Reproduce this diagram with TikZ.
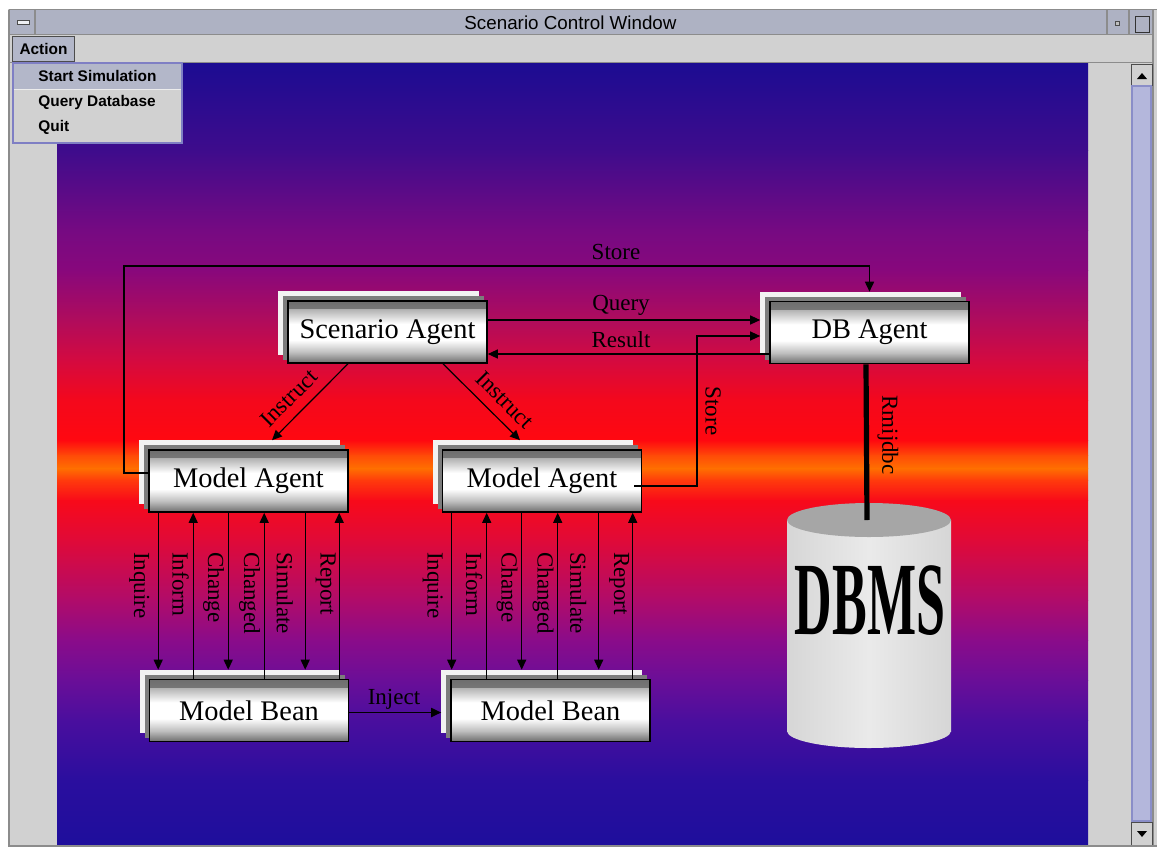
\documentclass[tikz,border=0pt]{standalone}
\usepackage{fontspec}
\setmainfont{Liberation Serif}
\newfontfamily\uifont{Liberation Sans}
\usetikzlibrary{arrows.meta,calc}

% window chrome colours
\definecolor{wingray}{HTML}{D1D1D1}
\definecolor{titlebar}{HTML}{AEB2C3}
\definecolor{menusel}{HTML}{B3B7C9}
\definecolor{menuedge}{HTML}{7F7FC4}
\definecolor{thumb}{HTML}{B4B7DC}
\definecolor{thumbedge}{HTML}{8A8EC8}
\definecolor{frameline}{HTML}{8C8C8C}
% box stack colours
\definecolor{backwhite}{HTML}{F2F2F2}
\definecolor{backgray}{HTML}{7C7C7C}
\definecolor{bxdark}{HTML}{6E6E6E}
\definecolor{bxmid}{HTML}{B4B4B4}
% cylinder colours
\definecolor{cylside}{HTML}{D6D6D6}
\definecolor{cylmid}{HTML}{EAEAEA}
\definecolor{cyltopc}{HTML}{A6A6A6}
% canvas gradient stops, bottom to top
\definecolor{g00}{HTML}{1E0E9C}
\definecolor{g01}{HTML}{2A0E9E}
\definecolor{g02}{HTML}{4A0E9E}
\definecolor{g03}{HTML}{6A0E98}
\definecolor{g04}{HTML}{8A0C8A}
\definecolor{g05}{HTML}{B00C6A}
\definecolor{g06}{HTML}{E00A38}
\definecolor{g07}{HTML}{F80A1A}
\definecolor{g08}{HTML}{FF3A0C}
\definecolor{g09}{HTML}{FF7000}
\definecolor{g10}{HTML}{FF4A08}
\definecolor{g11}{HTML}{FF0810}
\definecolor{g12}{HTML}{F4081C}
\definecolor{g13}{HTML}{D40A40}
\definecolor{g14}{HTML}{B00C5C}
\definecolor{g15}{HTML}{88087C}
\definecolor{g16}{HTML}{760A82}
\definecolor{g17}{HTML}{3E0C8C}
\definecolor{g18}{HTML}{1C0C92}

\pgfdeclarelayer{base}
\pgfdeclarelayer{canvas}
\pgfdeclarelayer{stack}
\pgfsetlayers{base,canvas,stack,main}

% one horizontal band of a box face, between fractions #1 and #2 of its height
\newcommand\faceband[4]{%
  \shade[top color=#3, bottom color=#4]
    ($(path picture bounding box.north west)!#1!(path picture bounding box.south west)$)
    rectangle
    ($(path picture bounding box.north east)!#2!(path picture bounding box.south east)$);}

\newcommand\beanlinks[2]{%
  \coordinate (#2top) at ([yshift=4.5pt]#2.north);
  \foreach \dx in {10,80,157}{
    \coordinate (t) at ($(#1.south west)+(\dx,0)$);
    \draw[link] (t) -- (t |- #2top);
  }
  \foreach \dx in {45,116,191}{
    \coordinate (t) at ($(#1.south west)+(\dx,0)$);
    \draw[link] (t |- #2.north) -- (t);
  }
  \foreach \lx/\txt in {-9/Inquire,32.5/Inform,65.5/Change,101.5/Changed,136.5/Simulate,177.5/Report}{
    \node[vlbl] at ($(#1.south west)+(\lx,39)$) {\txt};
  }
}

\begin{document}
\begin{tikzpicture}[x=0.5pt,y=-0.5pt,
  every node/.style={inner sep=0pt},
  agent/.style={draw=black, line width=0.8pt, fill=white,
    minimum width=99.5pt, minimum height=31pt,
    font=\fontsize{14.2pt}{16pt}\selectfont,
    path picture={
      \faceband{0}{0.15}{bxdark}{bxmid}
      \faceband{0.14}{0.37}{bxmid}{white}
      \faceband{0.63}{0.86}{white}{bxmid}
      \faceband{0.85}{1}{bxmid}{bxdark}
    }},
  lbl/.style={font=\fontsize{11.5pt}{13pt}\selectfont},
  vlbl/.style={lbl, rotate=-90, anchor=west},
  link/.style={line width=0.6pt, -{Triangle[length=5pt,width=4.5pt]}},
  ui/.style={font=\uifont\fontsize{7.7pt}{9pt}\selectfont\bfseries},
  chrome/.style={draw=frameline, line width=0.6pt}
]
\useasboundingbox (0,0) rectangle (1157,847);
\begin{pgfonlayer}{base}
\fill[white] (0,0) rectangle (1157,847);
\fill[wingray] (8,9) rectangle (1157,847);
\end{pgfonlayer}

% title bar
\fill[titlebar] (9,10) rectangle (1153,34);
\draw[chrome] (8.5,9.5) -- (1157,9.5);
\draw[chrome] (9,34.5) -- (1153,34.5);
\draw[chrome] (9,9.5) -- (9,847);
\draw[chrome] (35,10) -- (35,34);
\draw[chrome] (1107,10) -- (1107,34);
\draw[chrome] (1129,10) -- (1129,34);
\draw[chrome] (1153,9.5) -- (1153,847);
\node[font=\uifont\fontsize{9.4pt}{11pt}\selectfont] (title) at (570.5,23) {Scenario Control Window};
\filldraw[fill=white!80!titlebar, draw=gray!60!black, line width=0.4pt] (17,20) rectangle (29,24);
\filldraw[fill=gray!50, draw=gray!60!black, line width=0.4pt] (1115,21) rectangle (1119,25);
\draw[gray!40!black, line width=0.5pt] (1135,16) rectangle (1149,32);

% menu bar
\draw[chrome] (9,62.5) -- (1153,62.5);
\filldraw[fill=menusel, draw=gray!60!black, line width=0.5pt] (12,36) rectangle (74,61);
\node[ui] (menu) at (43.5,48.5) {Action};

% drawing canvas: vertical colour bands
\begin{pgfonlayer}{canvas}
\foreach \ya/\yb/\ca/\cb in {63/150/g18/g17, 150/230/g17/g16, 230/270/g16/g15,
    270/320/g15/g14, 320/360/g14/g13, 360/400/g13/g12, 400/440/g12/g11,
    440/455/g11/g10, 455/468/g10/g09, 468/480/g09/g08, 480/500/g08/g07,
    500/540/g07/g06, 540/600/g06/g05, 600/640/g05/g04, 640/680/g04/g03,
    680/720/g03/g02, 720/780/g02/g01, 780/845/g01/g00}{
  \shade[top color=\ca, bottom color=\cb] (57,\ya) rectangle (1088,\yb+0.7);
}
\end{pgfonlayer}

% scroll bar
\filldraw[fill=wingray, draw=gray!60!black, line width=0.5pt] (1131,64) rectangle (1152,85);
\fill[black] (1137,79) -- (1147,79) -- (1142,73) -- cycle;
\filldraw[fill=thumb, draw=thumbedge, line width=0.8pt] (1132,86) rectangle (1151,821);
\filldraw[fill=wingray, draw=gray!60!black, line width=0.5pt] (1131,822) rectangle (1152,845);
\fill[black] (1137,831) -- (1147,831) -- (1142,837) -- cycle;
\draw[chrome] (9,846) -- (1157,846);

% pull-down menu
\filldraw[fill=wingray, draw=menuedge, line width=0.8pt] (13,63) rectangle (182,143);
\fill[menusel] (14,64) rectangle (181,89);
\draw[white!85!gray, line width=0.6pt] (14,89.5) -- (181,89.5);
\node[ui, anchor=base west] (m1) at (38,81.5) {Start Simulation};
\node[ui, anchor=base west] (m2) at (38,106.5) {Query Database};
\node[ui, anchor=base west] (m3) at (38,131.5) {Quit};

% agents and beans
\node[agent] (sa)  at (387.5,332)   {Scenario Agent};
\node[agent] (db)  at (869.5,332.5) {DB Agent};
\node[agent] (ma1) at (248.5,481)   {Model Agent};
\node[agent] (ma2) at (542,481)     {Model Agent};
\node[agent] (mb1) at (249,710.5)   {Model Bean};
\node[agent] (mb2) at (550.5,710.5) {Model Bean};

% stacked copies behind each box
\begin{pgfonlayer}{stack}
\foreach \n in {sa,db,ma1,ma2,mb1,mb2}{
  \fill[backwhite] ([shift={(-9,-9)}]\n.north west) rectangle ([shift={(-9,-9)}]\n.south east);
  \fill[backgray] ([shift={(-4,-4)}]\n.north west) rectangle ([shift={(-4,-4)}]\n.south east);
}
\end{pgfonlayer}

% database cylinder
\shade[left color=cylside, right color=cylside, middle color=cylmid] (787,520) rectangle (951,731);
\shade[left color=cylside, right color=cylside, middle color=cylmid] (869,731) ellipse[x radius=82, y radius=17];
\fill[cyltopc] (869,520) ellipse[x radius=82, y radius=17];
\coordinate (cyltop) at (867,520);
\node (dbms) at (870,601) {\scalebox{1}[2]{\fontsize{26pt}{26pt}\selectfont\bfseries DBMS}};

% helper points
\coordinate (dbback) at ([xshift=-4.5pt]db.west);
\coordinate (mb2back) at ([xshift=-4.5pt]mb2.west);
\coordinate (storeL) at (124,266);
\coordinate (storeR) at (697,336);

% store from the first model agent
\draw[link, line width=0.8pt] ([yshift=4pt]ma1.west) -| (storeL) -| ([yshift=4.5pt]db.north);
\node[lbl] at (616,252) {Store};

% query and result
\coordinate (q) at ([yshift=6pt]sa.east);
\draw[link] (q) -- (q -| dbback);
\node[lbl] at (621,305) {Query};
\coordinate (r) at ([yshift=-10.75pt]db.west);
\draw[link] (r) -- (r -| sa.east);
\node[lbl] at (621,340) {Result};

% store from the second model agent
\coordinate (s) at ([xshift=-4pt,yshift=-2.5pt]ma2.east);
\draw[link] (s) -| (storeR) -- (storeR -| dbback);
\node[lbl, rotate=-90] at (713,411) {Store};

% instructions
\draw[link] ([xshift=-19.75pt]sa.south) -- ([xshift=11.75pt,yshift=4.5pt]ma1.north);
\draw[link] ([xshift=27.75pt]sa.south) -- ([xshift=-11pt,yshift=4.5pt]ma2.north);
\node[lbl, rotate=45] at (289,398) {Instruct};
\node[lbl, rotate=-45] at (505,400) {Instruct};

% database link
\draw[line width=2.6pt] ([xshift=-1.75pt]db.south) -- (cyltop);
\node[lbl, rotate=-90] at (888,435) {Rmijdbc};

% agent-bean traffic
\beanlinks{ma1}{mb1}
\beanlinks{ma2}{mb2}

% injection between beans
\coordinate (ij) at ([yshift=-1pt]mb1.east);
\draw[link, line width=0.9pt] (ij) -- (ij -| mb2back);
\node[lbl] at (394,699) {Inject};
\end{tikzpicture}
\end{document}
